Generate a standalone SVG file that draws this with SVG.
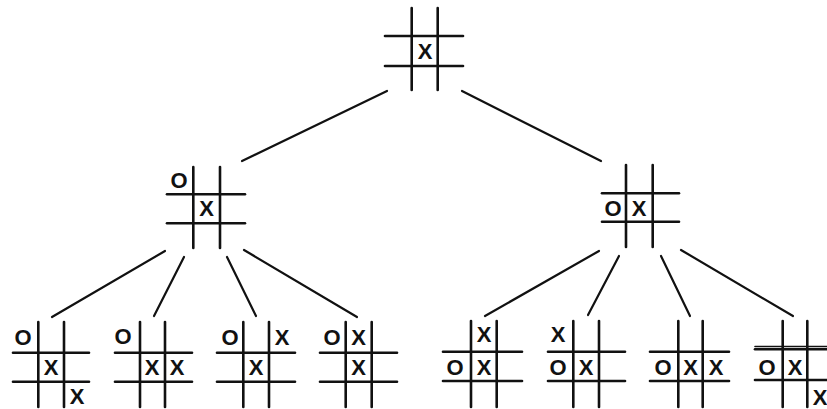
<svg xmlns="http://www.w3.org/2000/svg" width="827" height="409" viewBox="0 0 827 409">
<style>
.g line{stroke:#111;stroke-width:2.6;stroke-linecap:round}
.c line{stroke:#111;stroke-width:2.2;stroke-linecap:round}
text{font-family:"Liberation Sans",Arial,sans-serif;font-weight:bold;font-size:22px;fill:#111;text-anchor:middle}
</style>
<rect width="827" height="409" fill="#fff"/>
<g id="connectors" class="c">
<line x1="387" y1="91" x2="242" y2="161"/>
<line x1="462" y1="91" x2="601" y2="161"/>
<line x1="165" y1="251" x2="52" y2="317"/>
<line x1="184" y1="257" x2="154" y2="316"/>
<line x1="227" y1="257" x2="256" y2="316"/>
<line x1="244" y1="250" x2="357" y2="317"/>
<line x1="599" y1="251" x2="485" y2="316"/>
<line x1="619" y1="256" x2="588" y2="315"/>
<line x1="661" y1="256" x2="690" y2="316"/>
<line x1="681" y1="250" x2="793" y2="316"/>
</g>
<g id="root" class="g">
<line x1="411.7" y1="8" x2="411.7" y2="90"/><line x1="437.7" y1="8" x2="437.7" y2="90"/>
<line x1="385" y1="36" x2="463" y2="36"/><line x1="385" y1="66" x2="463" y2="66"/>
<text x="425" y="59">X</text>
</g>
<g id="mid-left" class="g">
<line x1="193.3" y1="167" x2="193.3" y2="248"/><line x1="220" y1="167" x2="220" y2="248"/>
<line x1="167" y1="194.3" x2="245" y2="194.3"/><line x1="167" y1="223.3" x2="245" y2="223.3"/>
<text x="179" y="188">O</text><text x="206.5" y="216">X</text>
</g>
<g id="mid-right" class="g">
<line x1="626" y1="165" x2="626" y2="247"/><line x1="652.7" y1="165" x2="652.7" y2="247"/>
<line x1="602" y1="193.3" x2="679" y2="193.3"/><line x1="602" y1="221.7" x2="679" y2="221.7"/>
<text x="613" y="216">O</text><text x="639" y="216">X</text>
</g>
<g id="leaf1" class="g">
<line x1="38.3" y1="322" x2="38.3" y2="407"/><line x1="64" y1="322" x2="64" y2="407"/>
<line x1="13" y1="352.7" x2="89" y2="352.7"/><line x1="13" y1="381.7" x2="89" y2="381.7"/>
<text x="23" y="345">O</text><text x="51" y="375">X</text><text x="77" y="404">X</text>
</g>
<g id="leaf2" class="g">
<line x1="140" y1="322" x2="140" y2="407"/><line x1="165" y1="322" x2="165" y2="407"/>
<line x1="115" y1="352.7" x2="192" y2="352.7"/><line x1="115" y1="381.7" x2="192" y2="381.7"/>
<text x="123" y="344">O</text><text x="152" y="375">X</text><text x="177" y="375">X</text>
</g>
<g id="leaf3" class="g">
<line x1="243.3" y1="322" x2="243.3" y2="407"/><line x1="269" y1="322" x2="269" y2="407"/>
<line x1="217" y1="352.7" x2="295" y2="352.7"/><line x1="217" y1="381.7" x2="295" y2="381.7"/>
<text x="230" y="345">O</text><text x="282" y="345">X</text><text x="256" y="375">X</text>
</g>
<g id="leaf4" class="g">
<line x1="345.7" y1="322" x2="345.7" y2="407"/><line x1="371.7" y1="322" x2="371.7" y2="407"/>
<line x1="320" y1="352.7" x2="397" y2="352.7"/><line x1="320" y1="381.7" x2="397" y2="381.7"/>
<text x="332" y="345">O</text><text x="358.7" y="345">X</text><text x="358.7" y="375">X</text>
</g>
<g id="leaf5" class="g">
<line x1="471" y1="321" x2="471" y2="407"/><line x1="496.7" y1="321" x2="496.7" y2="407"/>
<line x1="443" y1="351.7" x2="522" y2="351.7"/><line x1="443" y1="381" x2="522" y2="381"/>
<text x="484" y="342">X</text><text x="455" y="375">O</text><text x="484" y="375">X</text>
</g>
<g id="leaf6" class="g">
<line x1="573.3" y1="321" x2="573.3" y2="407"/><line x1="599" y1="321" x2="599" y2="407"/>
<line x1="548" y1="351.7" x2="625" y2="351.7"/><line x1="548" y1="381" x2="625" y2="381"/>
<text x="558" y="342">X</text><text x="558" y="375">O</text><text x="586" y="375">X</text>
</g>
<g id="leaf7" class="g">
<line x1="678.3" y1="321" x2="678.3" y2="407"/><line x1="702.7" y1="321" x2="702.7" y2="407"/>
<line x1="650" y1="351.7" x2="729" y2="351.7"/><line x1="650" y1="381" x2="729" y2="381"/>
<text x="663" y="375">O</text><text x="690.5" y="375">X</text><text x="716" y="375">X</text>
</g>
<g id="leaf8" class="g">
<line x1="782.7" y1="321" x2="782.7" y2="407"/><line x1="807.3" y1="321" x2="807.3" y2="407"/>
<line x1="755" y1="346.5" x2="827" y2="346.5" style="stroke-width:1.6"/>
<line x1="755" y1="349.3" x2="827" y2="349.3"/><line x1="755" y1="380" x2="827" y2="380"/>
<text x="767" y="375">O</text><text x="795" y="375">X</text><text x="820" y="405">X</text>
</g>
</svg>
